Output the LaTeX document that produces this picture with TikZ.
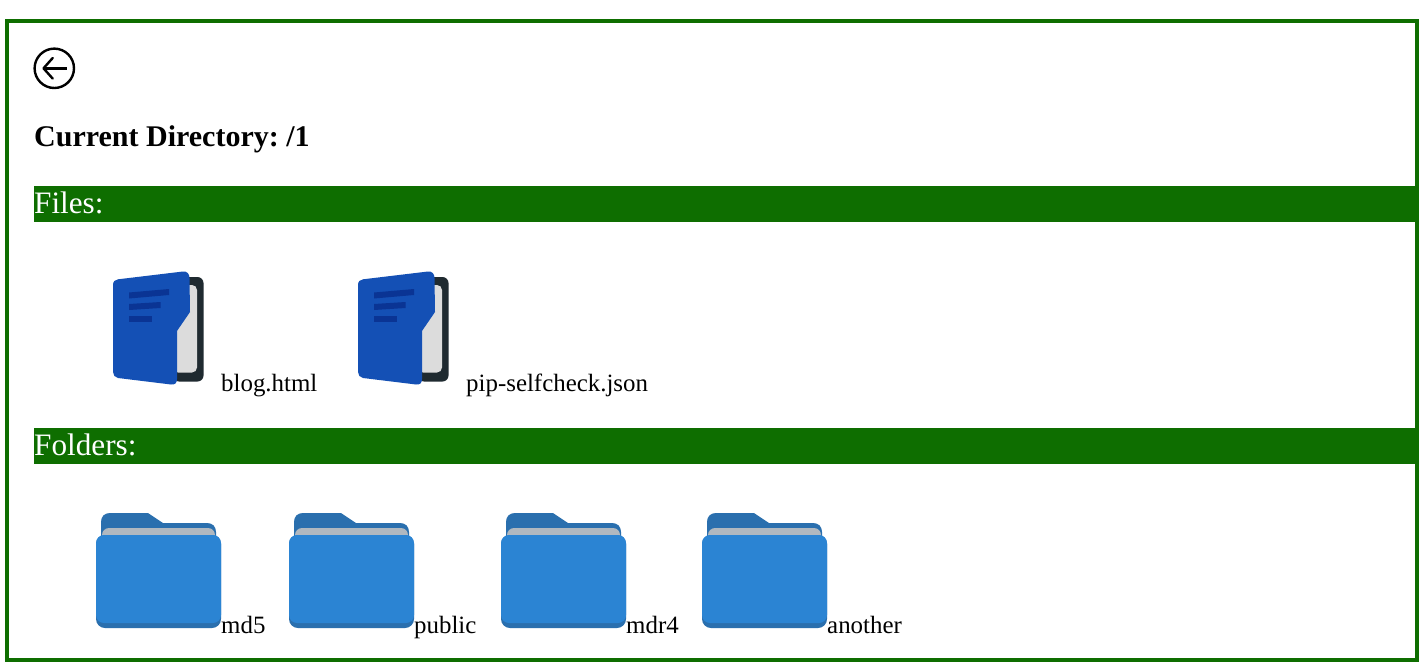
\documentclass[tikz,border=0pt]{standalone}
\usepackage{fontspec}
\setmainfont{Liberation Serif}
\definecolor{webgreen}{HTML}{0E6E00}
\definecolor{fileblue}{HTML}{1450B5}
\definecolor{fileline}{HTML}{0A3494}
\definecolor{filedark}{HTML}{1F2A30}
\definecolor{filegray}{HTML}{DCDCDC}
\definecolor{folderblue}{HTML}{2B84D3}
\definecolor{folderdark}{HTML}{2A6FAE}
\definecolor{foldergray}{HTML}{B0B8C0}
\tikzset{
  x=1pt,y=-1pt,
  bar/.style={fill=webgreen,draw=none},
  heading/.style={anchor=base west,inner sep=0pt,text=white,font=\fontsize{31.2}{31.2}\selectfont},
  label/.style={anchor=base west,inner sep=0pt,text=black,font=\fontsize{24.9}{24.9}\selectfont},
  title/.style={anchor=base west,inner sep=0pt,text=black,font=\fontsize{30}{30}\selectfont\bfseries\frenchspacing},
  fileicon/.pic={
    \fill[filedark,rounded corners=6pt] (60,6) -- (90.5,6) -- (90.5,110.5) -- (60,110.5) -- cycle;
    \fill[filegray,rounded corners=5pt] (60,14) -- (84,14) -- (84,101.5) -- (60,101.5) -- cycle;
    \fill[fileblue] (0,14) .. controls (0,10.5) and (2,8.7) .. (5,8.3) -- (70,0.5) .. controls (74,0) and (76.5,3) .. (76.5,7) -- (77,41) -- (64,60) -- (64,108) .. controls (64,112) and (62,114) .. (58,113.5) -- (5,107) .. controls (2,106.5) and (0,104) .. (0,101) -- cycle;
    \fill[fileline] (16,21.5) -- (56,18) -- (56,24) -- (16,27.5) -- cycle;
    \fill[fileline] (16,33) -- (47.5,31) -- (47.5,37) -- (16,39) -- cycle;
    \fill[fileline] (16,44.5) -- (39,44.5) -- (39,50.5) -- (16,50.5) -- cycle;
  },
  foldericon/.pic={
    \fill[folderdark] (5,9) .. controls (5,3.5) and (8.5,0) .. (14,0) -- (52,0) -- (67,10) -- (111,10) .. controls (116.5,10) and (120,13.5) .. (120,19) -- (120,30) -- (5,30) -- cycle;
    \fill[foldergray,rounded corners=7pt] (6,15) -- (119,15) -- (119,35) -- (6,35) -- cycle;
    \fill[folderdark,rounded corners=9pt] (0,22) -- (125,22) -- (125,115) -- (0,115) -- cycle;
    \fill[folderblue,rounded corners=8pt] (0,22) -- (125,22) -- (125,110) -- (0,110) -- cycle;
  }
}
\begin{document}
\begin{tikzpicture}
\useasboundingbox (0,0) rectangle (1425,665);
\fill[white] (0,0) rectangle (1425,665);
\draw[webgreen,line width=4pt] (7,21) rectangle (1417,660);
% back icon
\draw[black,line width=2.4pt] (54.3,68.3) circle[radius=19.7];
\draw[black,line width=2.4pt] (66.5,68.3) -- (44,68.3);
\draw[black,line width=2.4pt,line cap=round,line join=round] (52.7,58) -- (43.5,68.3) -- (52.7,78.6);
\node[title] (current) at (34,146.5) {Current Directory: /1};
% files bar
\fill[bar] (34,186) rectangle (1415,222);
\node[heading] (files) at (34,213) {Files:};
\pic at (113,271) {fileicon};
\node[label] (blog) at (221,391) {blog.html};
\pic at (358,271) {fileicon};
\node[label] (pip) at (466,391) {pip-selfcheck.json};
% folders bar
\fill[bar] (34,428) rectangle (1415,464);
\node[heading] (folders) at (34,455) {Folders:};
\pic at (96,513) {foldericon};
\node[label] (md5) at (221,633) {md5};
\pic at (289,513) {foldericon};
\node[label] (public) at (414,633) {public};
\pic at (501,513) {foldericon};
\node[label] (mdr4) at (626,633) {mdr4};
\pic at (702,513) {foldericon};
\node[label] (another) at (827,633) {another};
\end{tikzpicture}
\end{document}
